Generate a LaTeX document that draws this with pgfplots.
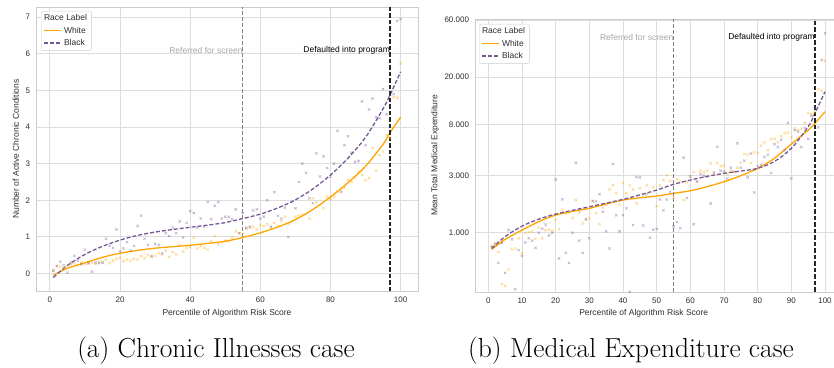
\documentclass[border=0pt]{standalone}
\usepackage{pgfplots}
\pgfplotsset{compat=1.18}
\usepackage{pgfplotstable}
\usepackage{fontspec}
\setmainfont{Liberation Sans}
\newfontfamily\lmfont{Latin Modern Roman}
\definecolor{wcol}{RGB}{255,165,0}
\definecolor{bcol}{RGB}{118,88,150}
\definecolor{gridc}{RGB}{221,221,221}
\definecolor{framec}{RGB}{204,204,204}
\definecolor{txt}{RGB}{45,45,45}

\pgfplotstableread{
x y
1 0.08
2 0.20
3 0.18
4 0.15
5 0.20
6 0.25
7 0.28
8 0.22
9 0.30
10 0.25
11 0.28
12 0.30
13 0.25
14 0.32
15 0.30
16 0.38
17 0.28
18 0.35
19 0.40
20 0.42
21 0.33
22 0.38
23 0.35
24 0.40
25 0.38
26 0.48
27 0.42
28 0.50
29 0.45
30 0.48
31 0.55
32 0.52
33 0.62
34 0.45
35 0.58
36 0.52
37 0.78
38 0.60
39 0.70
40 0.72
41 0.98
42 0.68
43 0.75
44 0.70
45 0.65
46 0.88
47 1.02
48 0.80
49 0.85
50 0.90
51 0.88
52 0.98
53 1.15
54 1.10
55 1.08
56 1.22
57 1.25
58 1.28
59 1.20
60 1.32
61 1.30
62 1.35
63 1.25
64 1.38
65 1.30
66 1.42
67 1.55
68 1.35
69 1.42
70 1.55
71 1.58
72 1.60
73 1.62
74 1.50
75 2.05
76 1.95
77 1.87
78 1.78
79 2.10
80 2.05
81 2.10
82 2.24
83 2.28
84 2.35
85 2.55
86 2.50
87 2.62
88 2.78
89 2.69
90 2.54
91 2.60
92 3.42
93 2.81
94 3.23
95 3.33
96 3.78
97 3.70
98 4.82
99 4.80
100 5.74
}\chronW
\pgfplotstableread{
x y
1 0.08
2 0.20
3 0.32
4 0.22
5 0.02
6 0.30
7 0.48
8 0.35
9 0.25
10 0.65
11 0.28
12 0.05
13 0.30
14 0.28
15 0.30
16 0.95
17 0.75
18 0.70
19 1.20
20 0.60
21 0.68
22 0.85
23 0.62
24 0.75
25 1.30
26 1.58
27 0.95
28 0.78
29 0.48
30 0.80
31 0.78
32 0.55
33 1.10
34 1.02
35 1.25
36 1.10
37 1.42
38 0.98
39 1.38
40 1.70
41 1.65
42 1.25
43 1.50
44 1.28
45 1.95
46 1.48
47 1.85
48 1.95
49 1.50
50 1.55
51 1.55
52 1.48
53 1.75
54 1.10
55 1.65
56 1.25
57 1.28
58 1.72
59 1.75
60 1.50
61 1.55
62 2.00
63 1.28
64 2.22
65 1.58
66 1.50
67 1.80
68 1.00
69 1.95
70 1.78
71 2.50
72 3.00
73 2.75
74 2.05
75 1.92
76 3.28
77 2.65
78 3.20
79 2.88
80 2.65
81 3.00
82 3.90
83 2.22
84 3.50
85 3.75
86 3.30
87 3.05
88 3.07
89 4.70
90 3.50
91 4.48
92 4.78
93 4.27
94 4.24
95 5.04
96 4.35
97 4.88
98 4.90
99 6.90
100 6.95
}\chronB
\pgfplotstableread{
x y
1 780
2 820
3 690
4 372
5 360
6 494
7 726
8 740
9 898
10 673
11 990
12 1010
13 1020
14 890
15 1100
16 900
17 1050
18 1060
19 1040
20 1290
21 1070
22 1550
23 1450
24 1480
25 1330
26 1880
27 1480
28 1200
29 1300
30 1320
31 1830
32 1460
33 1180
34 1620
35 1720
36 2300
37 2500
38 2150
39 1720
40 2590
41 2140
42 2480
43 2300
44 1760
45 2360
46 2000
47 2500
48 2180
49 2400
50 1670
51 2480
52 2760
53 3040
54 2700
55 1990
56 2800
57 2700
58 1880
59 2650
60 2950
61 3230
62 2700
63 3300
64 3200
65 3300
66 3800
67 3100
68 3850
69 3600
70 3650
71 3100
72 3300
73 3200
74 3500
75 3850
76 4550
77 4500
78 3830
79 4700
80 4650
81 5340
82 5700
83 4900
84 6100
85 6100
86 5700
87 6400
88 6800
89 6900
90 6300
91 7460
92 7200
93 7400
94 8300
95 9960
96 9800
97 10200
98 15800
99 15300
100 27400
}\expW
\pgfplotstableread{
x y
1 760
2 800
3 561
4 820
5 463
6 1053
7 880
8 338
9 717
10 640
11 830
12 900
13 860
14 750
15 1000
16 1080
17 1170
18 950
19 1000
20 2790
21 611
22 1900
23 680
24 560
25 1000
26 3850
27 860
28 680
29 1290
30 900
31 1850
32 1830
33 2100
34 1500
35 1030
36 740
37 3750
38 1400
39 1030
40 1400
41 1600
42 321
43 1160
44 2930
45 2900
46 1150
47 2100
48 910
49 1060
50 1080
51 1900
52 1540
53 1900
54 2200
55 1130
56 1230
57 1090
58 4240
59 1950
60 2960
61 1180
62 2670
63 3100
64 3000
65 2950
66 1760
67 3200
68 5240
69 3300
70 3250
71 2850
72 3500
73 3250
74 5590
75 3500
76 4000
77 2900
78 4600
79 2170
80 3600
81 3700
82 4300
83 4500
84 3170
85 5500
86 5200
87 6000
88 4900
89 8310
90 2850
91 7200
92 7000
93 5200
94 7500
95 6100
96 9500
97 11000
98 7600
99 27800
100 46500
}\expB

\tikzset{
  wline/.style={color=wcol, line width=1.3pt, solid},
  bline/.style={color=bcol, line width=1.3pt, dash pattern=on 4pt off 2pt},
  gvline/.style={gray, line width=0.9pt, dash pattern=on 4pt off 2pt},
  kvline/.style={black!85, line width=1.6pt, dash pattern=on 4.5pt off 2pt},
}
\pgfplotsset{
  myax/.style={
    scale only axis,
    anchor=south west,
    axis line style={framec, line width=0.9pt},
    grid=major,
    major grid style={gridc, line width=0.9pt},
    major tick length=0pt,
    minor tick length=0pt,
    tick label style={font=\fontsize{8}{9.6}\selectfont, color=txt},
    /pgf/number format/assume math mode=true,
    label style={font=\fontsize{8.5}{10}\selectfont, color=txt},
    xlabel={Percentile of Algorithm Risk Score},
    xticklabel style={yshift=-2.5pt},
    yticklabel style={xshift=-2.5pt},
    legend style={draw=framec, rounded corners=2pt, fill=white,
      font=\fontsize{8.5}{10}\selectfont, text=txt, row sep=0.6pt, inner xsep=2.5pt, inner ysep=1.5pt,
      anchor=north west},
    legend cell align=left,
  },
  scat/.style={only marks, mark=x, mark size=1.7pt, line width=0.55pt, opacity=0.5},
}

\begin{document}
\begin{tikzpicture}
\path[use as bounding box] (0pt,0pt) rectangle (834pt,367pt);

% ---------- left: chronic illnesses ----------
\begin{axis}[myax,
  at={(36pt,76pt)}, width=382pt, height=284pt,
  xmin=-3.95, xmax=104.95, ymin=-0.48, ymax=7.28,
  xtick={0,20,40,60,80,100}, ytick={0,1,2,3,4,5,6,7},
  ylabel={Number of Active Chronic Conditions},
  ylabel style={at={(axis description cs:-0.053,0.5)}, anchor=center},
  xlabel style={at={(axis description cs:0.5,-0.077)}, anchor=center},
  legend style={at={(axis description cs:0,1)}, xshift=5pt, yshift=-4pt},
]
\addlegendimage{empty legend}\addlegendentry{\hspace*{-20pt}Race Label}
\addplot[scat, color=wcol, forget plot] table {\chronW};
\addplot[scat, color=bcol, forget plot] table {\chronB};
\addplot[wline, smooth] coordinates {
(1,-0.05)(5,0.14)(10,0.29)(15,0.44)(20,0.55)(25,0.63)(30,0.69)(35,0.73)(40,0.77)(45,0.82)(50,0.88)(55,0.98)(60,1.11)(65,1.27)(70,1.47)(75,1.75)(80,2.09)(85,2.48)(90,2.93)(95,3.53)(97,3.85)(100,4.27)};
\addlegendentry{White}
\addplot[bline, smooth] coordinates {
(1,-0.11)(5,0.22)(10,0.52)(15,0.74)(20,0.91)(25,1.04)(30,1.13)(35,1.20)(40,1.26)(45,1.32)(50,1.39)(55,1.50)(60,1.62)(65,1.79)(70,2.01)(75,2.31)(80,2.69)(85,3.15)(90,3.72)(95,4.50)(97,4.88)(100,5.51)};
\addlegendentry{Black}
\draw[gvline] (axis cs:55,-0.48) -- (axis cs:55,7.28);
\draw[kvline] (axis cs:97,-0.48) -- (axis cs:97,7.28);
\node[anchor=east, inner sep=0pt, font=\fontsize{8.5}{10}\selectfont, text=black!35] at (axis cs:55,6.09) {Referred for screen};
\node[anchor=east, inner sep=0pt, font=\fontsize{8.5}{10}\selectfont, text=black] at (axis cs:97,6.09) {Defaulted into program};
\end{axis}

% ---------- right: medical expenditure ----------
\begin{axis}[myax,
  at={(475pt,75pt)}, width=359pt, height=273pt,
  xmin=-3.95, xmax=102.67, ymode=log, ymin=320, ymax=61200,
  xtick={0,10,20,30,40,50,60,70,80,90,100},
  ytick={1000,3000,8000,20000,60000},
  yticklabels={1.000,3.000,8.000,20.000,60.000},
  ylabel={Mean Total Medical Expenditure},
  ylabel style={at={(axis description cs:-0.111,0.5)}, anchor=center},
  xlabel style={at={(axis description cs:0.47,-0.078)}, anchor=center},
  legend style={at={(axis description cs:0,1)}, xshift=4pt, yshift=-5pt},
]
\addlegendimage{empty legend}\addlegendentry{\hspace*{-20pt}Race Label}
\addplot[scat, color=wcol, forget plot] table {\expW};
\addplot[scat, color=bcol, forget plot] table {\expB};
\addplot[wline, smooth] coordinates {
(1,726)(5,880)(10,1053)(15,1240)(20,1406)(25,1510)(30,1600)(35,1740)(40,1876)(45,1960)(50,2027)(55,2134)(60,2245)(65,2430)(70,2669)(75,3000)(80,3453)(85,4200)(90,5520)(95,7200)(97,8220)(100,10280)};
\addlegendentry{White}
\addplot[bline, smooth] coordinates {
(1,740)(5,930)(10,1137)(15,1300)(20,1433)(25,1540)(30,1650)(35,1770)(40,1903)(45,2070)(50,2275)(55,2540)(60,2760)(65,2960)(70,3140)(75,3280)(80,3455)(85,3950)(90,5080)(95,7700)(97,9960)(100,15100)};
\addlegendentry{Black}
\draw[gvline] (axis cs:55,320) -- (axis cs:55,61200);
\draw[kvline] (axis cs:97,320) -- (axis cs:97,61200);
\node[anchor=east, inner sep=0pt, font=\fontsize{8.5}{10}\selectfont, text=black!35] at (axis cs:55,42700) {Referred for screen};
\node[anchor=east, inner sep=0pt, font=\fontsize{8.5}{10}\selectfont, text=black] at (axis cs:97,42700) {Defaulted into program};
\end{axis}

% ---------- captions ----------
\node[font=\lmfont\fontsize{27.5}{32}\selectfont, anchor=center] at (216pt,16pt) {(a) Chronic Illnesses case};
\node[font=\lmfont\fontsize{27.5}{32}\selectfont, anchor=center] at (631pt,16pt) {(b) Medical Expenditure case};
\end{tikzpicture}
\end{document}
